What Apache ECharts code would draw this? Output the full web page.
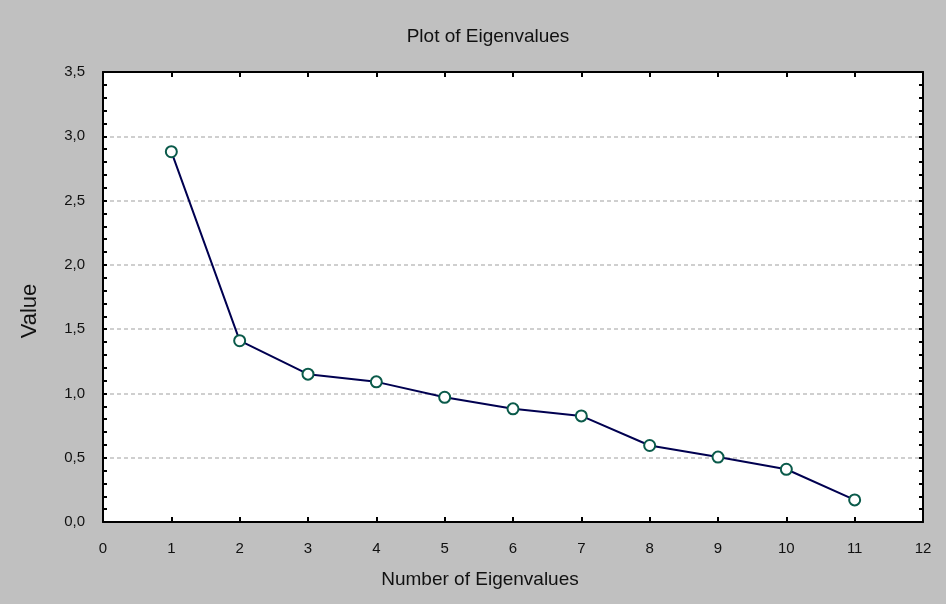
<!DOCTYPE html>
<html><head><meta charset="utf-8">
<script src="https://cdn.jsdelivr.net/npm/echarts@6/dist/echarts.min.js"></script>
<style>html,body{margin:0;padding:0;background:#c0c0c0}#c{width:946px;height:604px}</style>
</head><body><div id="c"></div>
<script>
const eigenNumbers = [1,2,3,4,5,6,7,8,9,10,11];
const eigenValues = [2.88,1.41,1.15,1.09,0.97,0.88,0.825,0.595,0.505,0.41,0.172];
const FONT = '"Liberation Sans Narrow","Liberation Sans",Arial,sans-serif';
const fmt = v => v.toFixed(1).replace('.', ',');
const chart = echarts.init(document.getElementById('c'));
chart.setOption({
  backgroundColor:'#c0c0c0',
  animation:false,
  title:{text:'Plot of Eigenvalues',left:483,top:22,textAlign:'center',
    textStyle:{fontFamily:FONT,fontSize:19,fontWeight:'normal',color:'#111'}},
  grid:{left:103,top:72,right:23,bottom:82,show:true,backgroundColor:'#fff',borderWidth:0},
  xAxis:[{type:'value',min:0,max:12,interval:1,
    name:'Number of Eigenvalues',nameLocation:'middle',nameGap:48,
    nameTextStyle:{fontFamily:FONT,fontSize:19,color:'#111',padding:[0,66,0,0]},
    axisLine:{onZero:false,lineStyle:{color:'#000',width:2}},
    axisTick:{inside:true,length:5,lineStyle:{color:'#000',width:2}},
    axisLabel:{fontFamily:FONT,fontSize:15,color:'#111',margin:19},
    splitLine:{show:false}},
   {type:'value',position:'top',min:0,max:12,interval:1,
    axisLine:{onZero:false,lineStyle:{color:'#000',width:2}},
    axisTick:{inside:true,length:5,lineStyle:{color:'#000',width:2}},
    axisLabel:{show:false},splitLine:{show:false}}],
  yAxis:[{type:'value',min:0,max:3.5,interval:0.5,
    name:'Value',nameLocation:'middle',nameGap:62,nameRotate:90,
    nameTextStyle:{fontFamily:FONT,fontSize:22,color:'#111',padding:[0,28,0,0]},
    axisLine:{onZero:false,lineStyle:{color:'#000',width:2}},
    axisTick:{inside:true,length:4,lineStyle:{color:'#000',width:2}},
    minorTick:{show:true,splitNumber:5,length:4,lineStyle:{color:'#000',width:2}},
    axisLabel:{fontFamily:FONT,fontSize:15,color:'#111',margin:18,formatter:fmt},
    splitLine:{show:true,lineStyle:{color:'#c0c0c0',type:[4,3],width:1.5}}},
   {type:'value',position:'right',min:0,max:3.5,interval:0.5,
    axisLine:{onZero:false,lineStyle:{color:'#000',width:2}},
    axisTick:{inside:true,length:4,lineStyle:{color:'#000',width:2}},
    minorTick:{show:true,splitNumber:5,length:4,lineStyle:{color:'#000',width:2}},
    axisLabel:{show:false},splitLine:{show:false}}],
  series:[{type:'line',data:eigenNumbers.map((n,i)=>[n,eigenValues[i]]),
    symbol:'circle',symbolSize:11,
    lineStyle:{color:'#000050',width:2},
    itemStyle:{color:'#fff',borderColor:'#0a5a4a',borderWidth:2}}]
});
</script></body></html>
